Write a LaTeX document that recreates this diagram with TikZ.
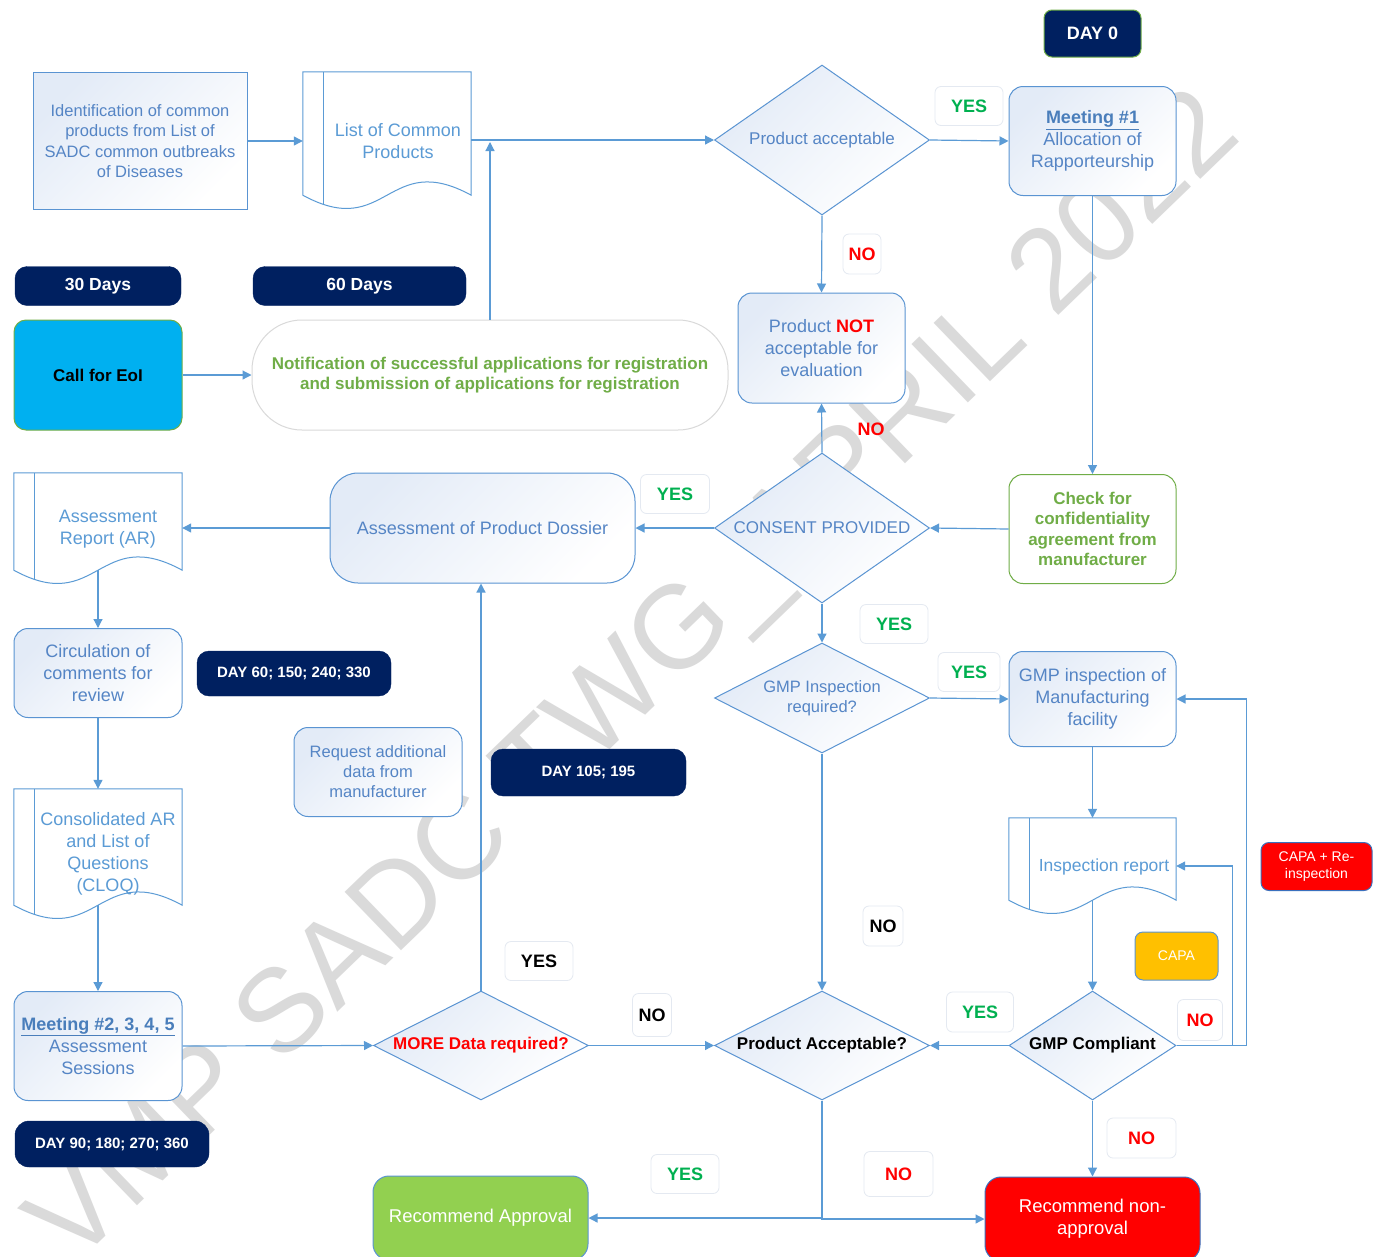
\documentclass[tikz,border=0pt]{standalone}
\usepackage{fontspec}
\setmainfont{Liberation Sans}
\usetikzlibrary{shapes.geometric,arrows.meta,calc}
\definecolor{lineblue}{HTML}{5B9BD5}
\definecolor{nodeblue}{HTML}{5A94D2}
\definecolor{textblue}{HTML}{5585C5}
\definecolor{meetblue}{HTML}{4A7EBB}
\definecolor{docblue}{HTML}{5B9BD5}
\definecolor{shadeblue}{HTML}{E3EBF7}
\definecolor{navy}{HTML}{002060}
\definecolor{grn}{HTML}{70AD47}
\definecolor{yesgreen}{HTML}{00B050}
\definecolor{lblborder}{HTML}{E4E9F1}
\definecolor{eoiblue}{HTML}{00B0F0}
\definecolor{capaor}{HTML}{FFC000}
\definecolor{apprgreen}{HTML}{92D050}
\definecolor{wmgray}{HTML}{DADADA}
\definecolor{notifborder}{HTML}{D9D9D9}
\definecolor{redborder}{HTML}{3A70BD}
\newcommand\fs[2]{\fontsize{#1}{#2}\selectfont}
\newcommand\docshape[1]{%
  \fill[white] (#1.north west) -- (#1.north east) -- (#1.south east) .. controls ($(#1.south)+(0,-46)$) and ($(#1.south)+(0,46)$) .. (#1.south west) -- cycle;
  \begin{scope}
    \clip (#1.north west) -- (#1.north east) -- (#1.south east) .. controls ($(#1.south)+(0,-46)$) and ($(#1.south)+(0,46)$) .. (#1.south west) -- cycle;
    \draw[docl] ($(#1.north west)+(21,0)$) -- ($(#1.south west)+(21,40)$);
  \end{scope}
  \draw[docl] (#1.north west) -- (#1.north east) -- (#1.south east) .. controls ($(#1.south)+(0,-46)$) and ($(#1.south)+(0,46)$) .. (#1.south west) -- cycle;
}
\begin{document}
\begin{tikzpicture}[x=1pt,y=-1pt,
  arr/.style={draw=lineblue, line width=1.2pt, -{Triangle[width=9pt,length=9pt]}},
  docl/.style={draw=lineblue, line width=1pt},
  shadefill/.style={top color=shadeblue, bottom color=white, shading angle=45},
  box/.style={rectangle, draw=nodeblue, line width=1pt, shadefill, text=textblue, align=center, inner sep=0pt},
  rbox/.style={box, rounded corners=14pt},
  dia/.style={diamond, draw=nodeblue, line width=1pt, shadefill, text=textblue, align=center, inner sep=0pt},
  docbox/.style={rectangle, inner sep=0pt},
  doct/.style={text=docblue, align=center, font=\fs{18}{22}},
  lbl/.style={rectangle, rounded corners=6pt, draw=lblborder, line width=0.8pt, fill=white, font=\fs{18}{21}\bfseries, inner sep=0pt},
  badge/.style={rectangle, rounded corners=12pt, fill=navy, draw=navy, text=white, inner sep=0pt},
]
\useasboundingbox (0,0) rectangle (1381,1256);
\fill[white] (0,0) rectangle (1381,1256);

% watermark
\node[rotate=44, text=wmgray, font=\fs{118}{118}] (wm) at (638,681) {VMP SADC TWG\_APRIL 2022};

% top row
\node[box, minimum width=214pt, minimum height=137pt, font=\fs{16.5}{20.5}] (ident) at (140,141)
  {Identification of common\\products from List of\\SADC common outbreaks\\of Diseases};
\node[docbox, minimum width=168pt, minimum height=123pt] (listcp) at (387,133.5) {};
\docshape{listcp}
\node[doct] (listcpt) at (398,141) {List of Common\\Products};

\node[dia, aspect=1.43, minimum width=215pt, minimum height=150pt, font=\fs{17}{20}] (pa) at (822,140) {Product acceptable};
\node[lbl, minimum width=68pt, minimum height=39pt, text=yesgreen] (yes1) at (969,106) {YES};
\node[rbox, minimum width=167pt, minimum height=109pt, font=\fs{18}{22}] (m1) at (1092.5,141)
  {\textcolor{meetblue}{\underline{\textbf{Meeting \#1}}}\\Allocation of\\Rapporteurship};
\node[badge, rounded corners=8pt, draw=grn, line width=1pt, minimum width=97pt, minimum height=47pt, font=\fs{18}{21}\bfseries] (day0) at (1092.5,33.5) {DAY 0};

\node[lbl, minimum width=38pt, minimum height=40pt, text=red] (no1) at (862,254) {NO};
\node[rbox, minimum width=167pt, minimum height=110pt, font=\fs{18}{22}] (pna) at (821.5,348)
  {Product \textcolor{red}{\textbf{NOT}}\\acceptable for\\evaluation};
\node[font=\fs{18}{21}\bfseries, text=red, inner sep=0pt] (no2) at (871,429) {NO};

% second row
\node[badge, minimum width=166pt, minimum height=39pt, font=\fs{17.5}{21}\bfseries] (d30) at (98,286) {30 Days};
\node[badge, minimum width=213pt, minimum height=39pt, font=\fs{17.5}{21}\bfseries] (d60) at (359.5,286) {60 Days};
\node[rectangle, rounded corners=12pt, fill=eoiblue, draw=grn, line width=1pt, minimum width=168pt, minimum height=110pt, font=\fs{17}{20}\bfseries, inner sep=0pt] (eoi) at (98,375) {Call for EoI};
\node[rectangle, rounded corners=50pt, fill=white, draw=notifborder, line width=1pt, minimum width=476pt, minimum height=110pt, text=grn, align=center, font=\fs{17}{20}\bfseries, inner sep=0pt] (notif) at (490,375)
  {Notification of successful applications for registration\\and submission of applications for registration};

% third row
\node[docbox, minimum width=168pt, minimum height=97pt] (AR) at (98,521.5) {};
\docshape{AR}
\node[doct] (ARt) at (108,529) {Assessment\\Report (AR)};
\node[box, rounded corners=28pt, minimum width=305pt, minimum height=110pt, font=\fs{18}{22}] (apd) at (482.5,528) {Assessment of Product Dossier};
\node[lbl, minimum width=69pt, minimum height=39pt, text=yesgreen] (yes2) at (675,494) {YES};
\node[dia, aspect=1.43, minimum width=215pt, minimum height=150pt, font=\fs{17}{20}] (consent) at (822,528) {CONSENT PROVIDED};
\node[rectangle, rounded corners=14pt, draw=grn, line width=1pt, fill=white, minimum width=167pt, minimum height=109pt, text=grn, align=center, font=\fs{17}{20.5}\bfseries, inner sep=0pt] (chk) at (1092.5,529)
  {Check for\\confidentiality\\agreement from\\manufacturer};

% fourth row
\node[lbl, minimum width=68pt, minimum height=39pt, text=yesgreen] (yes3) at (894,624) {YES};
\node[dia, aspect=1.95, minimum width=215pt, minimum height=110pt, font=\fs{16.5}{20}] (gmpq) at (822,698) {GMP Inspection\\required?};
\node[lbl, minimum width=62pt, minimum height=39pt, text=yesgreen] (yes4) at (969,672) {YES};
\node[rbox, minimum width=167pt, minimum height=95pt, font=\fs{18}{22}] (gmpi) at (1092.5,699) {GMP inspection of\\Manufacturing\\facility};

\node[rbox, minimum width=168pt, minimum height=89pt, font=\fs{18}{22}] (circ) at (98,673) {Circulation of\\comments for\\review};
\node[badge, minimum width=194pt, minimum height=45pt, font=\fs{15}{18}\bfseries] (d60b) at (294,673.5) {DAY 60; 150; 240; 330};
\node[rbox, minimum width=168pt, minimum height=89pt, font=\fs{16.5}{20}] (req) at (378,772) {Request additional\\data from\\manufacturer};
\node[badge, minimum width=195pt, minimum height=47pt, font=\fs{15}{18}\bfseries] (d105) at (588.5,772.5) {DAY 105; 195};

% documents lower
\node[docbox, minimum width=168pt, minimum height=116pt] (cloq) at (98,847) {};
\docshape{cloq}
\node[doct] (cloqt) at (108,854) {Consolidated AR\\and List of\\Questions\\(CLOQ)};

\node[docbox, minimum width=167pt, minimum height=82pt] (ir) at (1092.5,859) {};
\docshape{ir}
\node[doct, font=\fs{17.5}{21}] (irt) at (1104,867) {Inspection report};
\coordinate (irR) at ($(ir.east)+(0,7)$);

\node[rectangle, rounded corners=8pt, fill=capaor, draw=nodeblue, line width=1pt, minimum width=83pt, minimum height=48pt, text=white, font=\fs{14}{17}, inner sep=0pt] (capa) at (1176.5,956) {CAPA};
\node[rectangle, rounded corners=8pt, fill=red, draw=redborder, line width=1pt, minimum width=111pt, minimum height=48pt, text=white, align=center, font=\fs{14}{17}, inner sep=0pt] (capare) at (1316.5,866.5) {CAPA + Re-\\inspection};

\node[lbl, minimum width=40pt, minimum height=40pt, text=black] (no4) at (883,926) {NO};
\node[lbl, minimum width=68pt, minimum height=39pt, text=black] (yes6) at (539,961) {YES};
\node[lbl, minimum width=39pt, minimum height=43pt, text=black] (no5) at (652,1015) {NO};
\node[lbl, minimum width=67pt, minimum height=40pt, text=yesgreen] (yes5) at (980,1012) {YES};
\node[lbl, minimum width=45pt, minimum height=41pt, text=red] (no3) at (1200,1020) {NO};

% decision row
\node[rbox, minimum width=168pt, minimum height=109pt, font=\fs{18}{22}] (m2) at (98,1046)
  {\textcolor{meetblue}{\underline{\textbf{Meeting \#2, 3, 4, 5}}}\\Assessment\\Sessions};
\node[dia, aspect=1.97, minimum width=215pt, minimum height=109pt, text=red, font=\fs{17}{20}\bfseries] (mdr) at (481,1045.5) {MORE Data required?};
\node[dia, aspect=1.97, minimum width=215pt, minimum height=109pt, text=black, font=\fs{17}{20}\bfseries] (pacc) at (822,1045.5) {Product Acceptable?};
\node[dia, aspect=1.53, minimum width=167pt, minimum height=109pt, text=black, font=\fs{17}{20}\bfseries] (gmpc) at (1092.5,1045.5) {GMP Compliant};

\node[badge, rounded corners=14pt, minimum width=194pt, minimum height=46pt, font=\fs{15}{18}\bfseries] (d90) at (112,1144) {DAY 90; 180; 270; 360};

% bottom row
\node[lbl, minimum width=69pt, minimum height=40pt, text=red] (no7) at (1141.5,1138) {NO};
\node[lbl, minimum width=68pt, minimum height=39pt, text=yesgreen] (yes7) at (685,1174) {YES};
\node[lbl, minimum width=69pt, minimum height=45pt, text=red] (no6) at (898.5,1174) {NO};
\node[rectangle, rounded corners=16pt, fill=apprgreen, draw=nodeblue, line width=1pt, minimum width=215pt, minimum height=84pt, text=white, font=\fs{18.5}{22}, inner sep=0pt] (ra) at (480.5,1218) {Recommend Approval};
\node[rectangle, rounded corners=16pt, fill=red, draw=redborder, line width=1pt, minimum width=215pt, minimum height=84pt, text=white, align=center, font=\fs{18.5}{22}, inner sep=0pt] (rna) at (1092.5,1219) {Recommend non-\\approval};

% connectors
\draw[arr] (ident.east) -- (ident.east -| listcp.west);
\draw[arr] (pa.west -| listcp.east) -- (pa.west);
\draw[arr] (notif.north) -- ($(notif.north |- pa.west)+(0,2)$);
\draw[arr] (pa.east) -- (m1.west);
\draw[arr] (pa.south) -- (pna.north);
\draw[arr] (m1.south) -- (chk.north);
\draw[arr] (chk.west) -- (consent.east);
\draw[arr] (consent.north) -- (pna.south);
\draw[arr] (consent.west) -- (apd.east);
\draw[arr] (apd.west) -- (apd.west -| AR.east);
\draw[arr] (AR.south) -- (circ.north);
\draw[arr] (circ.south) -- (cloq.north);
\draw[arr] (cloq.south) -- (m2.north);
\draw[arr] (m2.east) -- (mdr.west);
\draw[arr] (mdr.north) -- (mdr.north |- apd.south);
\draw[arr] (mdr.east) -- (pacc.west);
\draw[arr] (consent.south) -- (gmpq.north);
\draw[arr] (gmpq.east) -- (gmpi.west);
\draw[arr] (gmpq.south) -- (pacc.north);
\draw[arr] (gmpi.south) -- (ir.north);
\draw[arr] (ir.south) -- (gmpc.north);
\draw[arr] (gmpc.west) -- (pacc.east);
\draw[arr] (gmpc.east) -- ++(70,0) |- (gmpi.east);
\draw[arr] (gmpc.east) -- ++(56,0) |- (irR);
\draw[arr] (pacc.south) |- (ra.east);
\draw[arr] (pacc.south) |- (rna.west);
\draw[arr] (gmpc.south) -- (rna.north);
\draw[arr] (eoi.east) -- (notif.west);
\end{tikzpicture}
\end{document}
